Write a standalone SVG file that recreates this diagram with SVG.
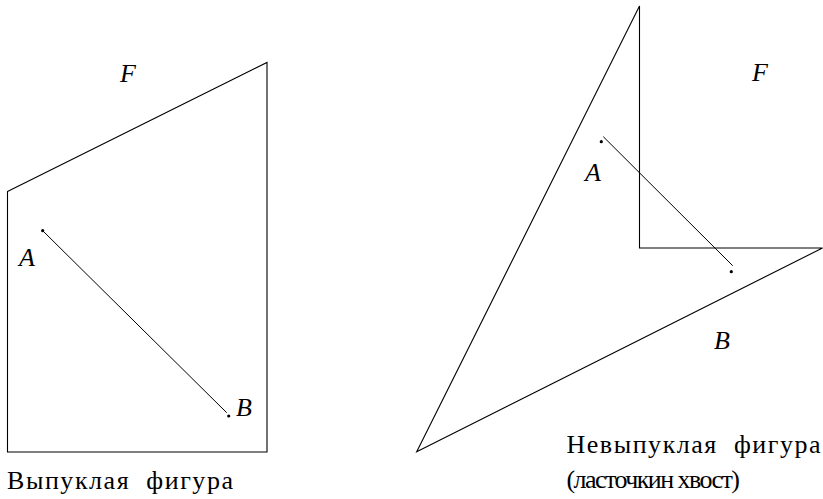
<svg xmlns="http://www.w3.org/2000/svg" width="823" height="499" viewBox="0 0 823 499" font-family="'Liberation Serif', 'DejaVu Serif', serif">
<defs>
<style>
.shape{fill:none;stroke:#000;stroke-width:1.1}
.seg{stroke:#000;stroke-width:1}
</style>
</defs>
<g id="convex">
<polygon class="shape" points="7.5,191.5 267,62.5 267,452 7.5,452"/>
<text x="120" y="82" font-style="italic" font-size="26">F</text>
<text x="19" y="266" font-style="italic" font-size="26">A</text>
<text x="236" y="416" font-style="italic" font-size="26">B</text>
<circle cx="42.7" cy="230.7" r="1.6" fill="#000"/>
<circle cx="228.7" cy="416" r="1.6" fill="#000"/>
<text x="7" y="489" font-size="26" textLength="226">Выпуклая&#160; фигура</text>
</g>
<g id="nonconvex">
<polygon class="shape" points="639.5,6 639.5,248 822.5,248 416.7,451.7"/>
<text x="752" y="81" font-style="italic" font-size="26">F</text>
<text x="585" y="181" font-style="italic" font-size="26">A</text>
<text x="714" y="349" font-style="italic" font-size="26">B</text>
<circle cx="601.3" cy="141.7" r="1.6" fill="#000"/>
<circle cx="731.3" cy="271.7" r="1.6" fill="#000"/>
<text x="566.5" y="453.3" font-size="26" textLength="254">Невыпуклая&#160; фигура</text>
<text x="566.5" y="488" font-size="26" textLength="173.5">(ласточкин хвост)</text>
</g>
<g id="connectors">
<line class="seg" x1="42.7" y1="230.7" x2="226.7" y2="412.7"/>
<line class="seg" x1="603.3" y1="136.7" x2="732.7" y2="265.7"/>
</g>
</svg>
